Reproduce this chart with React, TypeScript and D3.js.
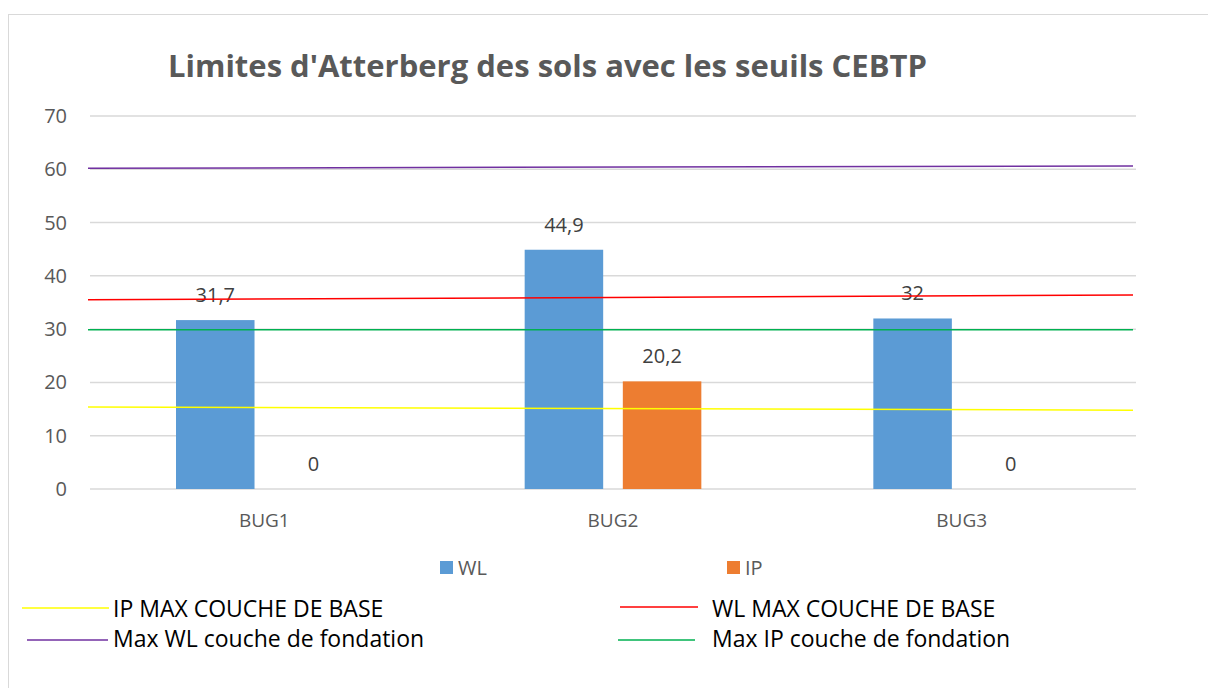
import React, { useEffect, useRef } from 'react';
import * as d3 from 'd3';

// categories and series
const categories = ['BUG1', 'BUG2', 'BUG3'];
const seriesNames = ['WL', 'IP'];
const wlValues = [31.7, 44.9, 32];
const ipValues = [0, 20.2, 0];
const yTicks = [0, 10, 20, 30, 40, 50, 60, 70];

// hand drawn threshold lines: value at left end, value at right end
const thresholdNames = ['IP MAX COUCHE DE BASE', 'WL MAX COUCHE DE BASE', 'Max WL couche de fondation', 'Max IP couche de fondation'];
const thresholdStart = [15.4, 35.5, 60.2, 29.9];
const thresholdEnd = [14.8, 36.4, 60.6, 29.9];

const seriesColors = ['#5b9bd5', '#ed7d31'];
const thresholdColors = ['#ffff00', '#ff0000', '#7030a0', '#00b050'];

const App = () => {
  const svgRef = useRef<SVGSVGElement>(null);

  useEffect(() => {
    const svg = d3.select(svgRef.current);
    svg.selectAll('*').remove();

    const font = '"Open Sans", Lato, sans-serif';
    const left = 90;
    const right = 1136;
    const top = 116;
    const bottom = 489;

    // chart border
    svg.append('rect')
      .attr('x', 8.5).attr('y', 14.5)
      .attr('width', 1230).attr('height', 700)
      .attr('fill', 'white').attr('stroke', '#d9d9d9');

    svg.append('text')
      .attr('x', 168).attr('y', 77)
      .attr('font-family', font)
      .attr('font-weight', 'bold')
      .attr('font-size', '31px')
      .attr('fill', '#595959')
      .text("Limites d'Atterberg des sols avec les seuils CEBTP");

    const x = d3.scaleBand().domain(categories).range([left, right]);
    const x1 = d3.scaleBand().domain(seriesNames).range([86, x.bandwidth() - 86]).paddingInner(0.2);
    const y = d3.scaleLinear().domain([0, 70]).range([bottom, top]);

    // grid
    svg.append('g').selectAll('line').data(yTicks).enter().append('line')
      .attr('x1', left).attr('x2', right)
      .attr('y1', d => y(d)).attr('y2', d => y(d))
      .attr('stroke', '#d9d9d9').attr('stroke-width', 1.5);

    svg.append('g').selectAll('text').data(yTicks).enter().append('text')
      .attr('x', 67).attr('y', d => y(d) + 7)
      .attr('text-anchor', 'end')
      .attr('font-family', font).attr('font-size', '20px')
      .attr('fill', '#595959')
      .text(d => d);

    svg.append('g').selectAll('text').data(categories).enter().append('text')
      .attr('x', d => (x(d) as number) + x.bandwidth() / 2)
      .attr('y', 527)
      .attr('text-anchor', 'middle')
      .attr('font-family', font).attr('font-size', '19px')
      .attr('fill', '#595959')
      .text(d => d);

    const seriesValues = [wlValues, ipValues];
    seriesNames.forEach((s, si) => {
      const g = svg.append('g');
      g.selectAll('rect').data(categories).enter().append('rect')
        .attr('x', d => (x(d) as number) + (x1(s) as number))
        .attr('width', x1.bandwidth())
        .attr('y', (d, i) => y(seriesValues[si][i]))
        .attr('height', (d, i) => bottom - y(seriesValues[si][i]))
        .attr('fill', seriesColors[si]);
      g.selectAll('text').data(categories).enter().append('text')
        .attr('x', d => (x(d) as number) + (x1(s) as number) + x1.bandwidth() / 2)
        .attr('y', (d, i) => y(seriesValues[si][i]) - 18)
        .attr('text-anchor', 'middle')
        .attr('font-family', font).attr('font-size', '20px')
        .attr('fill', '#404040')
        .text((d, i) => String(seriesValues[si][i]).replace('.', ','));
    });

    // threshold lines
    thresholdNames.forEach((n, i) => {
      svg.append('line')
        .attr('x1', left - 2).attr('x2', right - 3)
        .attr('y1', y(thresholdStart[i])).attr('y2', y(thresholdEnd[i]))
        .attr('stroke', thresholdColors[i]).attr('stroke-width', 1.5);
    });

    // series legend
    const legX = [440, 727];
    seriesNames.forEach((s, i) => {
      svg.append('rect')
        .attr('x', legX[i]).attr('y', 561).attr('width', 13).attr('height', 13)
        .attr('fill', seriesColors[i]);
      svg.append('text')
        .attr('x', legX[i] + 18).attr('y', 575)
        .attr('font-family', font).attr('font-size', '20px')
        .attr('fill', '#595959')
        .text(s);
    });

    // threshold legend
    const lx1 = [22, 620, 27, 618];
    const lx2 = [109, 698, 108, 695];
    const lTextX = [113, 712, 113, 712];
    const lY = [608, 607, 640, 640];
    const lTextY = [617, 617, 647, 647];
    thresholdNames.forEach((n, i) => {
      svg.append('line')
        .attr('x1', lx1[i]).attr('x2', lx2[i])
        .attr('y1', lY[i]).attr('y2', lY[i])
        .attr('stroke', thresholdColors[i]).attr('stroke-width', 1.5);
      svg.append('text')
        .attr('x', lTextX[i]).attr('y', lTextY[i])
        .attr('font-family', font).attr('font-size', '23px')
        .attr('fill', '#000')
        .text(n);
    });
  }, []);

  return (
    <svg ref={svgRef} width={1208} height={688} viewBox="0 0 1208 688"
      style={{ position: 'absolute', left: 0, top: 0, display: 'block', background: 'white' }} />
  );
};

export default App;
